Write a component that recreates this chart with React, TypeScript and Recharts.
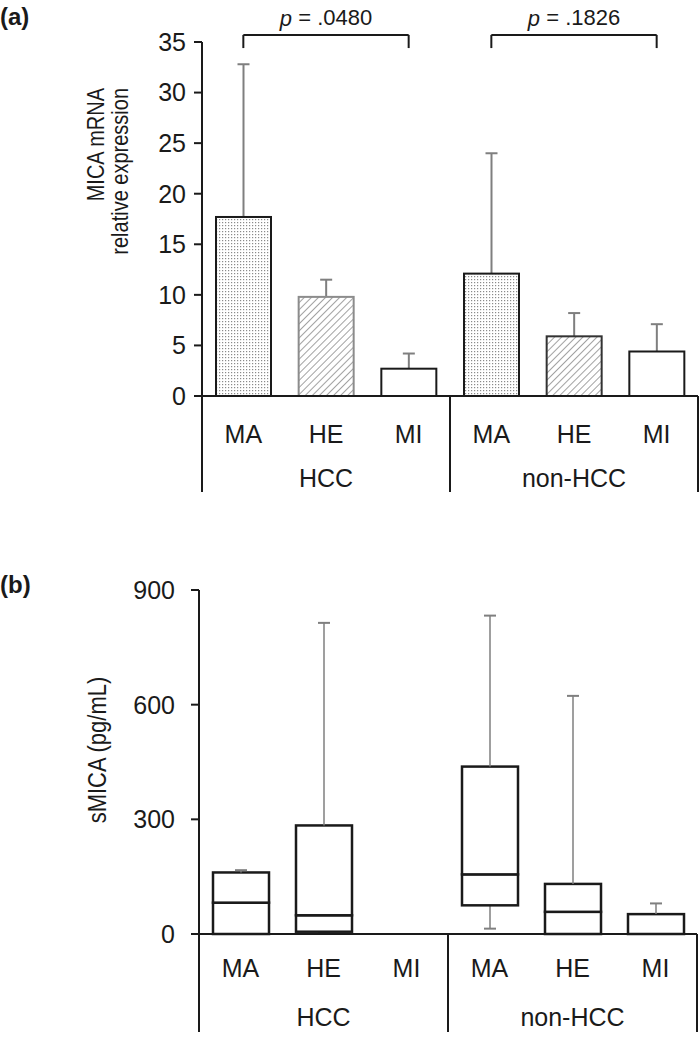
import React from "react";
import { BarChart, Bar, XAxis, YAxis, ReferenceLine } from "recharts";

const FONT = "'Liberation Sans', Arial, Helvetica, sans-serif";
const INK = "#1a1a1a";
const WHISKER = "#7f7f7f";

// shared categories
const categories = ["HCC-MA", "HCC-HE", "HCC-MI", "non-HCC-MA", "non-HCC-HE", "non-HCC-MI"];
const subLabels = ["MA", "HE", "MI", "MA", "HE", "MI"];
const groupLabels = ["HCC", "non-HCC"];

// (a) MICA mRNA relative expression, mean + SD
const mrnaMean = [17.7, 9.8, 2.7, 12.1, 5.9, 4.4];
const mrnaSD = [15.1, 1.7, 1.5, 11.9, 2.3, 2.7];
const mrnaTicks = [0, 5, 10, 15, 20, 25, 30, 35];
const pValues = [".0480", ".1826"];
const pPairs = [
  ["HCC-MA", "HCC-MI"],
  ["non-HCC-MA", "non-HCC-MI"],
];

// (b) sMICA (pg/mL), box plot
const sMin = [0, 3, 0, 14, 0, 0];
const sQ1 = [0, 6, 0, 75, 0, 0];
const sMedian = [82, 49, 0, 156, 58, 0];
const sQ3 = [161, 284, 0, 438, 131, 52];
const sMax = [167, 814, 0, 833, 623, 80];
const smicaTicks = [0, 300, 600, 900];

const mrnaData = categories.map((cat, i) => ({
  cat,
  i,
  mean: mrnaMean[i],
  sd: mrnaSD[i],
}));

const smicaData = categories.map((cat, i) => ({
  cat,
  i,
  base: sMin[i],
  lowW: sQ1[i] - sMin[i],
  boxLow: sMedian[i] - sQ1[i],
  boxHigh: sQ3[i] - sMedian[i],
  highW: sMax[i] - sQ3[i],
}));

const barFills = ["url(#dots)", "url(#hatch)", "#ffffff", "url(#dots)", "url(#hatch)", "#ffffff"];
const barStrokes = [INK, "#8c8c8c", INK, INK, "#333333", INK];

const textStyle = { fontFamily: FONT, fontSize: 25, fill: INK };
const panelStyle = { fontFamily: FONT, fontSize: 24, fontWeight: "bold" as const, fill: INK };

// multi-level x tick: sub label, group label, group dividers
const makeGroupTick = (labelDy: number, groupDy: number, drop: number) => (props: any) => {
  const { x, y, payload } = props;
  const i = payload.index;
  const half = payload.offset ?? 41.5;
  return (
    <g>
      <text x={x} y={y + labelDy} textAnchor="middle" dominantBaseline="central" style={textStyle}>
        {subLabels[i]}
      </text>
      {i % 3 === 1 && (
        <text x={x} y={y + groupDy} textAnchor="middle" dominantBaseline="central" style={textStyle}>
          {groupLabels[Math.floor(i / 3)]}
        </text>
      )}
      {i % 3 === 0 && (
        <line x1={x - half} x2={x - half} y1={y} y2={y + drop} stroke={INK} strokeWidth={2} />
      )}
      {i === categories.length - 1 && (
        <line x1={x + half} x2={x + half} y1={y} y2={y + drop} stroke={INK} strokeWidth={2} />
      )}
    </g>
  );
};

// bar with upward SD whisker, scaled from the bar's own pixel height
const MeanSdBar = (props: any) => {
  const { x, y, width, height, payload } = props;
  const i = payload.i;
  const pxPerUnit = payload.mean ? height / payload.mean : 0;
  const top = y - payload.sd * pxPerUnit;
  const cx = x + width / 2;
  return (
    <g>
      <line x1={cx} x2={cx} y1={y} y2={top} stroke={WHISKER} strokeWidth={2} />
      <line x1={cx - 6} x2={cx + 6} y1={top} y2={top} stroke={WHISKER} strokeWidth={2} />
      <rect x={x} y={y} width={width} height={height} fill={barFills[i]} stroke={barStrokes[i]} strokeWidth={2} />
    </g>
  );
};

const Empty = () => <g />;

const LowWhisker = (props: any) => {
  const { x, y, width, height } = props;
  const cx = x + width / 2;
  const bottom = y + height;
  return (
    <g>
      <line x1={cx} x2={cx} y1={y} y2={bottom} stroke={WHISKER} strokeWidth={1.5} />
      <line x1={cx - 6} x2={cx + 6} y1={bottom} y2={bottom} stroke={WHISKER} strokeWidth={2} />
    </g>
  );
};

const HighWhisker = (props: any) => {
  const { x, y, width, height } = props;
  const cx = x + width / 2;
  return (
    <g>
      <line x1={cx} x2={cx} y1={y + height} y2={y} stroke={WHISKER} strokeWidth={1.5} />
      <line x1={cx - 6} x2={cx + 6} y1={y} y2={y} stroke={WHISKER} strokeWidth={2} />
    </g>
  );
};

const BoxPart = (props: any) => {
  const { x, y, width, height } = props;
  if (!height) return <g />;
  return <rect x={x} y={y} width={width} height={height} fill="#ffffff" stroke={INK} strokeWidth={2.5} />;
};

const PLabel = ({ viewBox, p }: any) => {
  if (!viewBox) return null;
  const cx = viewBox.x + viewBox.width / 2;
  return (
    <text x={cx} y={viewBox.y - 17} textAnchor="middle" dominantBaseline="central"
      style={{ fontFamily: FONT, fontSize: 22, fill: INK }}>
      <tspan fontStyle="italic">p</tspan> = {p}
    </text>
  );
};

// rotated axis title, glyphs a bit taller across the axis like the source
const VTitle = ({ x, y, anchor, size, children }: any) => (
  <text x={0} y={0} textAnchor={anchor} dominantBaseline="central"
    transform={`translate(${x}, ${y}) rotate(-90) scale(1, 1.2)`}
    style={{ fontFamily: FONT, fontSize: size, fill: INK }}>
    {children}
  </text>
);

export default function App() {
  return (
    <div style={{ position: "absolute", left: 0, top: 0, width: 700, height: 1037, background: "#fff" }}>
      <div style={{ position: "absolute", left: 0, top: 0 }}>
        <BarChart width={700} height={500} data={mrnaData} barSize={55}
          margin={{ top: 42, right: 2, bottom: 4, left: 0 }}>
          <defs>
            <pattern id="dots" width="3" height="3" patternUnits="userSpaceOnUse">
              <rect width="3" height="3" fill="#ffffff" />
              <rect width="1.2" height="1.2" fill="#8a8a8a" />
            </pattern>
            <pattern id="hatch" width="5" height="5" patternUnits="userSpaceOnUse" patternTransform="rotate(45)">
              <rect width="5" height="5" fill="#ffffff" />
              <line x1="0" y1="0" x2="0" y2="5" stroke="#8a8a8a" strokeWidth="1.6" />
            </pattern>
          </defs>
          <XAxis dataKey="cat" height={100} interval={0} tickLine={false} tickSize={0} tickMargin={0}
            axisLine={{ stroke: INK, strokeWidth: 2 }} tick={makeGroupTick(38, 82, 96)} />
          <YAxis width={202} domain={[0, 35]} ticks={mrnaTicks} interval={0} tickSize={8} tickMargin={8}
            axisLine={{ stroke: INK, strokeWidth: 2 }} tickLine={{ stroke: INK, strokeWidth: 2 }}
            tick={textStyle} />
          <Bar dataKey="mean" isAnimationActive={false} shape={MeanSdBar} />
          {pPairs.map(([from, to], k) => (
            <ReferenceLine key={`h${k}`} ifOverflow="visible" stroke={INK} strokeWidth={2}
              segment={[{ x: from, y: 35.7 }, { x: to, y: 35.7 }]}
              label={<PLabel p={pValues[k]} />} />
          ))}
          {pPairs.map(([from], k) => (
            <ReferenceLine key={`l${k}`} ifOverflow="visible" stroke={INK} strokeWidth={2}
              segment={[{ x: from, y: 35.7 }, { x: from, y: 34.4 }]} />
          ))}
          {pPairs.map(([, to], k) => (
            <ReferenceLine key={`r${k}`} ifOverflow="visible" stroke={INK} strokeWidth={2}
              segment={[{ x: to, y: 35.7 }, { x: to, y: 34.4 }]} />
          ))}
          <text x={0} y={16} dominantBaseline="central" style={panelStyle}>(a)</text>
          <VTitle x={96} y={88} anchor="end" size={20}>MICA mRNA</VTitle>
          <VTitle x={120} y={88} anchor="end" size={20}>relative expression</VTitle>
        </BarChart>
      </div>

      <div style={{ position: "absolute", left: 0, top: 520 }}>
        <BarChart width={700} height={517} data={smicaData} barSize={56}
          margin={{ top: 70, right: 3, bottom: 3, left: 0 }}>
          <XAxis dataKey="cat" height={100} interval={0} tickLine={false} tickSize={0} tickMargin={0}
            axisLine={{ stroke: INK, strokeWidth: 2 }} tick={makeGroupTick(34, 83, 98)} />
          <YAxis width={199} domain={[0, 900]} ticks={smicaTicks} interval={0} tickSize={8} tickMargin={16}
            axisLine={{ stroke: INK, strokeWidth: 2 }} tickLine={{ stroke: INK, strokeWidth: 2 }}
            tick={textStyle} />
          <Bar dataKey="base" stackId="box" isAnimationActive={false} shape={Empty} />
          <Bar dataKey="lowW" stackId="box" isAnimationActive={false} shape={LowWhisker} />
          <Bar dataKey="boxLow" stackId="box" isAnimationActive={false} shape={BoxPart} />
          <Bar dataKey="boxHigh" stackId="box" isAnimationActive={false} shape={BoxPart} />
          <Bar dataKey="highW" stackId="box" isAnimationActive={false} shape={HighWhisker} />
          <text x={0} y={64} dominantBaseline="central" style={panelStyle}>(b)</text>
          <VTitle x={97} y={230} anchor="middle" size={22}>sMICA (pg/mL)</VTitle>
        </BarChart>
      </div>
    </div>
  );
}
